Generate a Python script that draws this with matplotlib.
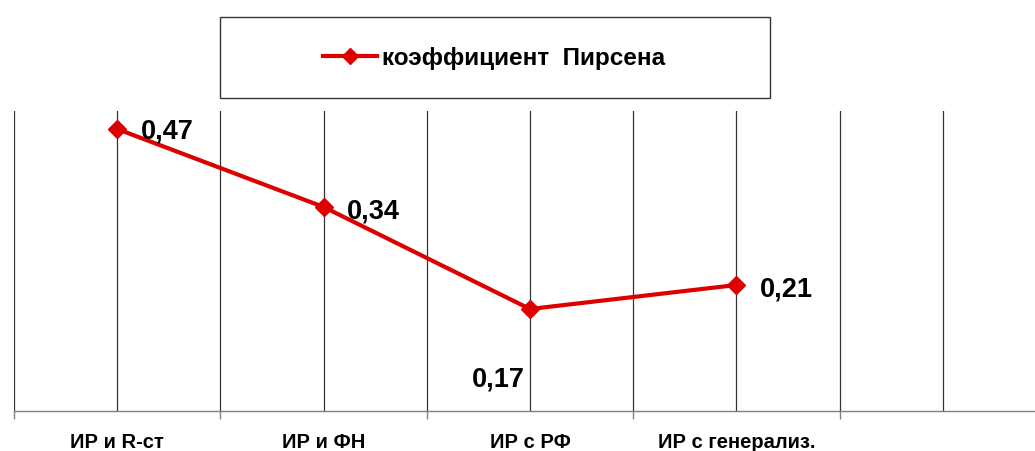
import matplotlib
matplotlib.use("Agg")
import matplotlib.pyplot as plt
from matplotlib.patches import Rectangle
from matplotlib.lines import Line2D
import numpy as np

plt.rcParams["font.family"] = ["Liberation Sans", "DejaVu Sans"]
plt.rcParams["font.weight"] = "bold"

categories = ["ИР и R-ст", "ИР и ФН", "ИР с РФ", "ИР с генерализ."]
values = [0.47, 0.34, 0.17, 0.21]
value_labels = ["0,47", "0,34", "0,17", "0,21"]
series_name = "коэффициент  Пирсена"
n_slots = 5  # plot area holds one more (empty) category slot

RED = "#DD0000"
W, H = 1035, 451

fig = plt.figure(figsize=(W / 100, H / 100), dpi=100)
ax = fig.add_axes([14 / W, 40 / H, 1032 / W, 300 / H])

x = np.arange(len(categories)) + 0.5
ax.plot(x, values, color=RED, lw=3.0, marker="D", ms=9, mfc=RED, mec=RED,
        solid_capstyle="round", zorder=3, clip_on=False)

# data labels: right of point, the lowest one below it
offsets = [(17, -2), (17, -3), (-4, -51), (17, -3)]
aligns = ["left", "left", "right", "left"]
for xi, v, lab, off, ha in zip(x, values, value_labels, offsets, aligns):
    ax.annotate(lab, (xi, v), xytext=off, textcoords="offset points",
                ha=ha, va="center", fontsize=19.5, fontweight="bold", color="black")

ax.set_xlim(0, n_slots)
ax.set_ylim(0, 0.5)
ax.set_xticks(np.arange(0, n_slots + 1))
ax.set_xticklabels([])
ax.set_xticks(np.arange(n_slots) + 0.5, minor=True)
ax.set_xticklabels(categories + [""], minor=True, fontsize=14.5, fontweight="bold")
ax.tick_params(axis="x", which="major", length=6, width=1, color="#808080", direction="out")
ax.tick_params(axis="x", which="minor", length=0, pad=16)
ax.set_yticks([])

for xv in np.arange(0, n_slots + 0.01, 0.5):
    ax.axvline(xv, color="#333333", lw=0.9, zorder=1)

for s in ["top", "right", "left"]:
    ax.spines[s].set_visible(False)
ax.spines["bottom"].set_color("#808080")
ax.spines["bottom"].set_linewidth(1.0)

# legend box
fig.patches.append(Rectangle((220 / W, 1 - 98 / H), 550 / W, 81 / H,
                             transform=fig.transFigure, fill=False,
                             edgecolor="#333333", lw=1.0))
handle = Line2D([], [], color=RED, lw=3.0, marker="D", ms=8, mfc=RED, mec=RED)
fig.legend([handle], [series_name], loc="center", bbox_to_anchor=(494 / W, 1 - 58 / H),
           frameon=False, handlelength=2.2, handletextpad=0.2,
           prop={"size": 17.5, "weight": "bold"})

fig.savefig("out.png", dpi=100)
